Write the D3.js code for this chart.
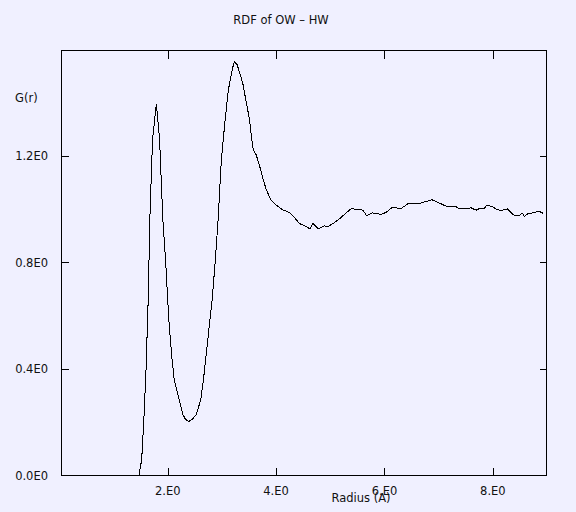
<!DOCTYPE html>
<html>
<head>
<meta charset="utf-8">
<script src="https://cdn.jsdelivr.net/npm/d3@7"></script>
<style>
  html, body { margin: 0; padding: 0; background: #F0F0FF; }
  svg { display: block; }
  text { font-family: "DejaVu Sans", sans-serif; font-size: 11.5px; fill: #111; }
</style>
</head>
<body>
<div id="chart"></div>
<script>
const title = "RDF of OW \u2013 HW";
const xLabel = "Radius (A)";
const yLabel = "G(r)";

const xTicks = [2, 4, 6, 8];
const xTickLabels = ["2.E0", "4.E0", "6.E0", "8.E0"];
const yTicks = [0, 0.4, 0.8, 1.2];
const yTickLabels = ["0.0E0", "0.4E0", "0.8E0", "1.2E0"];

const radius = [0.05, 1.45, 1.47, 1.52, 1.56, 1.60, 1.64, 1.67, 1.72, 1.79,
  1.85, 1.91, 1.96, 2.02, 2.08, 2.12, 2.21, 2.28, 2.33, 2.39, 2.45,
  2.53, 2.61, 2.66, 2.74, 2.82, 2.88, 2.93,
  2.95, 2.99, 3.06, 3.12, 3.19, 3.23,
  3.28, 3.34, 3.39, 3.44, 3.51, 3.55, 3.58, 3.63, 3.69, 3.76, 3.82, 3.90, 3.99,
  4.12, 4.25, 4.34, 4.43, 4.52, 4.63, 4.68, 4.78, 4.89, 4.95, 5.05,
  5.17, 5.26, 5.38, 5.51, 5.60, 5.67, 5.78, 5.87, 5.94, 6.03, 6.14, 6.31, 6.44, 6.64, 6.77, 6.88,
  7.01, 7.14, 7.20, 7.32, 7.38, 7.50, 7.60, 7.69, 7.75, 7.84, 7.89, 7.99, 8.09, 8.18, 8.27,
  8.39, 8.49, 8.54, 8.58, 8.64, 8.73, 8.85, 8.93];

const gr = [0, 0, 0, 0.06, 0.21, 0.40, 0.66, 0.96, 1.26, 1.395,
  1.26, 0.96, 0.81, 0.585, 0.435, 0.36, 0.285, 0.229, 0.21, 0.203, 0.21,
  0.229, 0.285, 0.36, 0.51, 0.66, 0.81, 0.96,
  1.035, 1.185, 1.335, 1.447, 1.522, 1.553,
  1.541, 1.503, 1.466, 1.41, 1.335, 1.26, 1.222, 1.204, 1.166, 1.11, 1.072, 1.035, 1.016,
  0.997, 0.986, 0.967, 0.945, 0.937, 0.925, 0.945, 0.925, 0.937, 0.933, 0.945,
  0.963, 0.979, 1.0, 0.999, 0.995, 0.975, 0.985, 0.982, 0.979, 0.987, 1.005, 1.002, 1.02, 1.02, 1.028, 1.034,
  1.022, 1.01, 1.008, 1.008, 1.001, 1.001, 1.004, 0.995, 1.001, 1.001, 1.015, 1.008, 0.996, 0.995, 1.0,
  0.976, 0.975, 0.985, 0.972, 0.981, 0.985, 0.991, 0.983];

const width = 576, height = 512;
const plotLeft = 61.5, plotRight = 546.5, plotTop = 50.5, plotBottom = 475.5;
const tickLen = 8;

const svg = d3.select("#chart").append("svg")
  .attr("width", width)
  .attr("height", height);

svg.append("rect")
  .attr("width", width)
  .attr("height", height)
  .attr("fill", "#F0F0FF");

const x = d3.scaleLinear().domain([0.04, 8.99]).range([plotLeft, plotRight]);
const y = d3.scaleLinear().domain([0, 1.594]).range([plotBottom, plotTop]);

// ticks on all four sides, pointing inward
const axisStyle = g => {
  g.select(".domain").remove();
  g.selectAll(".tick line").attr("stroke", "#000").attr("shape-rendering", "crispEdges");
  g.selectAll(".tick text").remove();
};

svg.append("g")
  .attr("transform", `translate(0,${plotBottom})`)
  .call(d3.axisTop(x).tickValues(xTicks).tickSize(tickLen))
  .call(axisStyle);

svg.append("g")
  .attr("transform", `translate(0,${plotTop})`)
  .call(d3.axisBottom(x).tickValues(xTicks).tickSize(tickLen))
  .call(axisStyle);

svg.append("g")
  .attr("transform", `translate(${plotLeft},0)`)
  .call(d3.axisRight(y).tickValues(yTicks.slice(1)).tickSize(tickLen - 1))
  .call(axisStyle);

svg.append("g")
  .attr("transform", `translate(${plotRight},0)`)
  .call(d3.axisLeft(y).tickValues(yTicks.slice(1)).tickSize(tickLen - 1))
  .call(axisStyle);

svg.append("rect")
  .attr("x", plotLeft)
  .attr("y", plotTop)
  .attr("width", plotRight - plotLeft)
  .attr("height", plotBottom - plotTop)
  .attr("fill", "none")
  .attr("stroke", "#000")
  .attr("shape-rendering", "crispEdges");

// tick labels
svg.selectAll(".xlab")
  .data(xTicks)
  .enter().append("text")
  .attr("class", "xlab")
  .attr("x", d => x(d))
  .attr("y", 494.5)
  .attr("text-anchor", "middle")
  .text((d, i) => xTickLabels[i]);

svg.selectAll(".ylab")
  .data(yTicks)
  .enter().append("text")
  .attr("class", "ylab")
  .attr("x", 48)
  .attr("y", d => y(d) + 4.5)
  .attr("text-anchor", "end")
  .text((d, i) => yTickLabels[i]);

svg.append("text")
  .attr("x", 281)
  .attr("y", 23.5)
  .attr("text-anchor", "middle")
  .text(title);

svg.append("text")
  .attr("x", 15)
  .attr("y", 102)
  .text(yLabel);

// overlaps the 6.E0 label, as in the original
svg.append("text")
  .attr("x", 331.5)
  .attr("y", 502)
  .text(xLabel);

// the rdf curve
const points = radius.map((r, i) => [r, gr[i]]);

const line = d3.line()
  .x(d => x(d[0]))
  .y(d => y(d[1]));

svg.append("path")
  .datum(points)
  .attr("d", line)
  .attr("fill", "none")
  .attr("stroke", "#000")
  .attr("stroke-width", 1)
  .attr("shape-rendering", "crispEdges");
</script>
</body>
</html>
